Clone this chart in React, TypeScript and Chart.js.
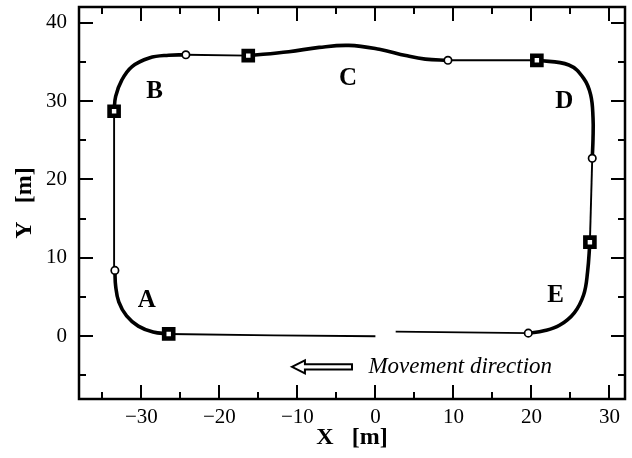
import { useEffect, useRef } from 'react';
import { Chart, registerables } from 'chart.js';

Chart.register(...registerables);

const FONT = '"Liberation Serif", "Times New Roman", serif';

// Axis ticks
const xMajorTicks = [-30, -20, -10, 0, 10, 20, 30];
const xMinorTicks = [-35, -25, -15, -5, 5, 15, 25];
const yMajorTicks = [0, 10, 20, 30, 40];
const yMinorTicks = [-5, 5, 15, 25, 35];

// Track pieces (thin = straight runs, thick = turns)
const bottomLeft = [{ x: 0, y: 0.0 }, { x: -13, y: 0.12 }, { x: -26.5, y: 0.3 }];
const turnA = [
  { x: -26.5, y: 0.3 }, { x: -28.5, y: 0.55 }, { x: -30.4, y: 1.3 }, { x: -31.9, y: 2.6 },
  { x: -32.9, y: 4.4 }, { x: -33.3, y: 6.4 }, { x: -33.4, y: 8.4 },
];
const leftSide = [{ x: -33.4, y: 8.4 }, { x: -33.5, y: 28.7 }];
const turnB = [
  { x: -33.5, y: 28.7 }, { x: -33.3, y: 30.6 }, { x: -32.5, y: 32.7 }, { x: -31.2, y: 34.4 },
  { x: -29.0, y: 35.5 }, { x: -26.5, y: 35.85 }, { x: -24.3, y: 35.9 },
];
const topLeft = [{ x: -24.3, y: 35.9 }, { x: -16.3, y: 35.8 }];
const turnC = [
  { x: -16.3, y: 35.8 }, { x: -11.1, y: 36.3 }, { x: -7.2, y: 36.85 }, { x: -3.4, y: 37.1 },
  { x: 0.5, y: 36.6 }, { x: 3.9, y: 35.8 }, { x: 6.4, y: 35.35 }, { x: 9.3, y: 35.2 },
];
const topRight = [{ x: 9.3, y: 35.2 }, { x: 20.7, y: 35.2 }];
const turnD = [
  { x: 20.7, y: 35.2 }, { x: 24.8, y: 34.6 }, { x: 26.7, y: 32.9 }, { x: 27.6, y: 30.8 },
  { x: 27.9, y: 27.9 }, { x: 27.9, y: 25.2 }, { x: 27.8, y: 22.7 },
];
const rightSide = [{ x: 27.8, y: 22.7 }, { x: 27.5, y: 12.0 }];
const turnE = [
  { x: 27.5, y: 12.0 }, { x: 27.2, y: 8.2 }, { x: 26.7, y: 5.3 }, { x: 25.5, y: 3.0 },
  { x: 23.6, y: 1.4 }, { x: 21.6, y: 0.7 }, { x: 19.6, y: 0.4 },
];
const bottomRight = [{ x: 19.6, y: 0.4 }, { x: 2.6, y: 0.6 }];

// Markers
const squareMarkers = [
  { x: -26.5, y: 0.3 }, { x: -33.5, y: 28.7 }, { x: -16.3, y: 35.8 },
  { x: 20.7, y: 35.2 }, { x: 27.5, y: 12.0 },
];
const circleMarkers = [
  { x: -33.4, y: 8.4 }, { x: -24.3, y: 35.9 }, { x: 9.3, y: 35.2 },
  { x: 27.8, y: 22.7 }, { x: 19.6, y: 0.4 },
];

// Section labels
const sectionLabels = ['A', 'B', 'C', 'D', 'E'];
const sectionLabelX = [-29.3, -28.3, -3.5, 24.2, 23.1];
const sectionLabelY = [4.6, 31.2, 32.9, 30.0, 5.2];

// Direction annotation
const directionText = 'Movement direction';
const arrowTipX = -10.7;
const arrowTailX = -3.0;
const arrowY = -3.9;
const directionTextX = -0.9;

const fmt = (v: number) => String(v).replace('-', '\u2212');

const decorPlugin = {
  id: 'decor',
  afterDatasetsDraw(chart: any) {
    const { ctx, scales } = chart;
    const xs = scales.x;
    const ys = scales.y;
    ctx.save();
    ctx.fillStyle = '#000';
    ctx.textAlign = 'center';
    ctx.textBaseline = 'middle';
    ctx.font = `bold 25px ${FONT}`;
    sectionLabels.forEach((t, i) => {
      ctx.fillText(t, xs.getPixelForValue(sectionLabelX[i]), ys.getPixelForValue(sectionLabelY[i]));
    });

    // arrow
    const tx = xs.getPixelForValue(arrowTipX);
    const ex = xs.getPixelForValue(arrowTailX);
    const cy = ys.getPixelForValue(arrowY);
    const headLen = 13;
    const headHalf = 6.5;
    const shaftHalf = 2.6;
    ctx.beginPath();
    ctx.moveTo(tx, cy);
    ctx.lineTo(tx + headLen, cy - headHalf);
    ctx.lineTo(tx + headLen, cy - shaftHalf);
    ctx.lineTo(ex, cy - shaftHalf);
    ctx.lineTo(ex, cy + shaftHalf);
    ctx.lineTo(tx + headLen, cy + shaftHalf);
    ctx.lineTo(tx + headLen, cy + headHalf);
    ctx.closePath();
    ctx.fillStyle = '#fff';
    ctx.fill();
    ctx.lineWidth = 2;
    ctx.strokeStyle = '#000';
    ctx.lineJoin = 'miter';
    ctx.stroke();

    ctx.fillStyle = '#000';
    ctx.textAlign = 'left';
    ctx.font = `italic 23px ${FONT}`;
    ctx.fillText(directionText, xs.getPixelForValue(directionTextX), cy);
    ctx.restore();
  },
  afterDraw(chart: any) {
    const { ctx, chartArea: a, scales } = chart;
    const xs = scales.x;
    const ys = scales.y;
    ctx.save();
    ctx.strokeStyle = '#000';
    ctx.lineWidth = 2;
    const major = 14;
    const minor = 7;
    const xt = (v: number, len: number) => {
      const p = Math.round(xs.getPixelForValue(v));
      ctx.beginPath();
      ctx.moveTo(p, a.bottom);
      ctx.lineTo(p, a.bottom - len);
      ctx.moveTo(p, a.top);
      ctx.lineTo(p, a.top + len);
      ctx.stroke();
    };
    const yt = (v: number, len: number) => {
      const p = Math.round(ys.getPixelForValue(v));
      ctx.beginPath();
      ctx.moveTo(a.left, p);
      ctx.lineTo(a.left + len, p);
      ctx.moveTo(a.right, p);
      ctx.lineTo(a.right - len, p);
      ctx.stroke();
    };
    xMajorTicks.forEach((v) => xt(v, major));
    xMinorTicks.forEach((v) => xt(v, minor));
    yMajorTicks.forEach((v) => yt(v, major));
    yMinorTicks.forEach((v) => yt(v, minor));
    ctx.lineWidth = 2.5;
    ctx.strokeRect(a.left, a.top, a.right - a.left, a.bottom - a.top);
    ctx.restore();
  },
};

export default function App() {
  const ref = useRef<HTMLCanvasElement | null>(null);
  useEffect(() => {
    document.body.style.margin = '0';
    if (!ref.current) return;
    const thick = (data: any[]) => ({
      data, showLine: true, borderColor: '#000', borderWidth: 3.6, pointRadius: 0,
      tension: 0.4, fill: false, order: 2, borderCapStyle: 'round', borderJoinStyle: 'round',
    });
    const thin = (data: any[]) => ({
      data, showLine: true, borderColor: '#000', borderWidth: 1.9, pointRadius: 0,
      tension: 0, fill: false, order: 2, borderCapStyle: 'butt',
    });
    const zeroPad = (s: any) => {
      s.paddingTop = 0; s.paddingBottom = 0; s.paddingLeft = 0; s.paddingRight = 0;
    };
    const chart = new Chart(ref.current, {
      type: 'scatter',
      data: {
        datasets: [
          {
            data: squareMarkers, showLine: false, pointStyle: 'rect', pointRadius: 6.4,
            pointBorderWidth: 4.6, pointBorderColor: '#000', pointBackgroundColor: '#fff', order: 0,
          } as any,
          {
            data: circleMarkers, showLine: false, pointStyle: 'circle', pointRadius: 3.7,
            pointBorderWidth: 1.7, pointBorderColor: '#000', pointBackgroundColor: '#fff', order: 1,
          } as any,
          thin(bottomLeft), thick(turnA), thin(leftSide), thick(turnB), thin(topLeft),
          thick(turnC), thin(topRight), thick(turnD), thin(rightSide), thick(turnE), thin(bottomRight),
        ],
      },
      options: {
        animation: false,
        responsive: false,
        maintainAspectRatio: false,
        layout: { autoPadding: false, padding: { top: 7, right: 7, left: 0, bottom: 0 } },
        plugins: { legend: { display: false }, tooltip: { enabled: false } },
        scales: {
          x: {
            type: 'linear', min: -38, max: 32, position: 'bottom',
            grid: { display: false, drawTicks: false }, border: { display: false },
            ticks: {
              stepSize: 10, padding: 6, color: '#000', maxRotation: 0,
              font: { family: FONT, size: 21 }, callback: (v: any) => fmt(v),
            },
            afterBuildTicks: (s: any) => { s.ticks = xMajorTicks.map((v) => ({ value: v })); },
            afterFit: (s: any) => { s.height = 59; zeroPad(s); },
            title: {
              display: true, text: 'X   [m]', color: '#000',
              font: { family: FONT, size: 24, weight: 'bold' }, padding: { top: 0, bottom: 6 },
            },
          },
          y: {
            type: 'linear', min: -8, max: 42, position: 'left',
            grid: { display: false, drawTicks: false }, border: { display: false },
            ticks: {
              stepSize: 10, padding: 12, color: '#000',
              font: { family: FONT, size: 21 }, callback: (v: any) => fmt(v),
            },
            afterBuildTicks: (s: any) => { s.ticks = yMajorTicks.map((v) => ({ value: v })); },
            afterFit: (s: any) => { s.width = 79; zeroPad(s); },
            title: {
              display: true, text: 'Y   [m]', color: '#000',
              font: { family: FONT, size: 24, weight: 'bold' }, padding: { top: 10, bottom: 0 },
            },
          },
        },
      } as any,
      plugins: [decorPlugin],
    });
    return () => chart.destroy();
  }, []);
  return <canvas ref={ref} width={632} height={458} style={{ display: 'block' }} />;
}
